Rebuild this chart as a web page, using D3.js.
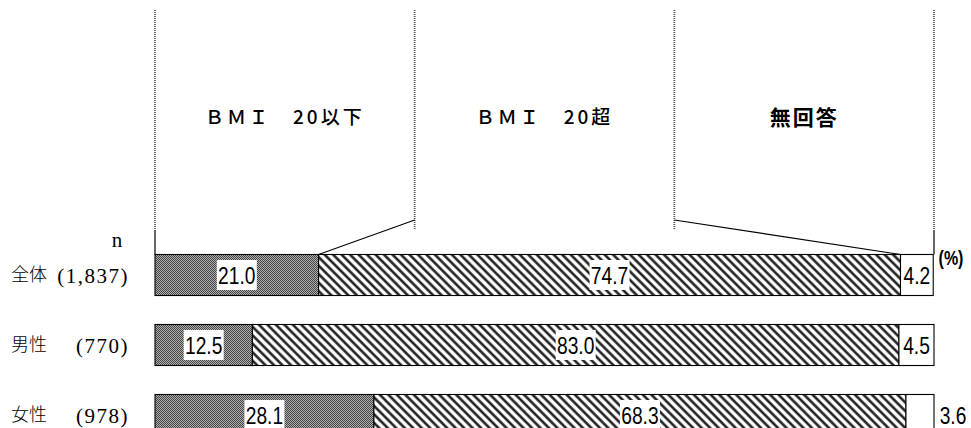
<!DOCTYPE html>
<html>
<head>
<meta charset="utf-8">
<script src="https://cdn.jsdelivr.net/npm/d3@7"></script>
<style>
  body { margin: 0; background: #fff; }
  svg { display: block; }
</style>
</head>
<body>
<script>
var categories = ["全体", "男性", "女性"];
var nLabels = ["(1,837)", "(770)", "(978)"];
var seriesNames = ["ＢＭＩ　20以下", "ＢＭＩ　20超", "無回答"];
var under20 = [21.0, 12.5, 28.1];
var over20 = [74.7, 83.0, 68.3];
var noAnswer = [4.2, 4.5, 3.6];

(function()
{
    var w = 971;
    var h = 428;
    var serif = "'Liberation Serif', 'DejaVu Serif', 'Noto Sans CJK JP', serif";
    var sans = "'Liberation Sans', Arial, sans-serif";

    var svg = d3.select("body")
        .append("svg")
        .attr("width", w)
        .attr("height", h);

    var defs = svg.append("defs");

    // dotted grey fill
    var dots = defs.append("pattern")
        .attr("id", "dots")
        .attr("patternUnits", "userSpaceOnUse")
        .attr("width", 2)
        .attr("height", 2);
    dots.append("rect").attr("width", 2).attr("height", 2).attr("fill", "#b0b0b0");
    dots.append("rect").attr("width", 1).attr("height", 1).attr("fill", "#444");
    dots.append("rect").attr("x", 1).attr("y", 1).attr("width", 1).attr("height", 1).attr("fill", "#444");

    // diagonal hatch, top-left to bottom-right
    var hatch = defs.append("pattern")
        .attr("id", "hatch")
        .attr("patternUnits", "userSpaceOnUse")
        .attr("width", 6)
        .attr("height", 6)
        .attr("patternTransform", "rotate(-45)");
    hatch.append("rect").attr("width", 6).attr("height", 6).attr("fill", "#fff");
    hatch.append("line")
        .attr("x1", 1.5).attr("y1", 0).attr("x2", 1.5).attr("y2", 6)
        .attr("stroke", "#111").attr("stroke-width", 2.4);

    var x = d3.scaleLinear().domain([0, 100]).range([155, 934]);
    var y = d3.scaleBand()
        .domain(categories)
        .range([240, 450])
        .paddingInner(0.414)
        .paddingOuter(0.207);

    var fills = ["url(#dots)", "url(#hatch)", "#fff"];

    var rows = categories.map(function(c, i) {
        var vals = [under20[i], over20[i], noAnswer[i]];
        var acc = 0;
        return vals.map(function(v, k) {
            var seg = { cat: c, key: k, value: v, x0: acc, x1: acc + v };
            acc += v;
            return seg;
        });
    });

    // legend panels with dotted separators
    var third = (x(100) - x(0)) / 3;
    var panelX = [0, 1, 2, 3].map(function(k) { return x(0) + k * third; });

    svg.selectAll("line.sep")
        .data(panelX)
        .enter()
        .append("line")
        .attr("class", "sep")
        .attr("x1", function(d) { return d; })
        .attr("x2", function(d) { return d; })
        .attr("y1", 10)
        .attr("y2", 230)
        .attr("stroke", "#555")
        .attr("stroke-width", 1.8)
        .attr("stroke-dasharray", "1,1");

    svg.selectAll("text.legend")
        .data(seriesNames)
        .enter()
        .append("text")
        .attr("class", "legend")
        .attr("x", function(d, i) { return panelX[i] + third / 2; })
        .attr("y", 117)
        .attr("dy", "0.36em")
        .attr("text-anchor", "middle")
        .attr("font-family", "'Noto Sans CJK JP', sans-serif")
        .attr("font-size", function(d, i) { return i < 2 ? "19px" : "21px"; })
        .attr("letter-spacing", function(d, i) { return i < 2 ? "3px" : "2px"; })
        .attr("font-weight", function(d, i) { return i < 2 ? 500 : 700; })
        .attr("fill", "#000")
        .text(function(d) { return d; });

    // solid ends down to the first bar
    svg.selectAll("line.end")
        .data([0, 100])
        .enter()
        .append("line")
        .attr("class", "end")
        .attr("x1", function(d) { return x(d); })
        .attr("x2", function(d) { return x(d); })
        .attr("y1", 230)
        .attr("y2", y(categories[0]))
        .attr("stroke", "#000")
        .attr("stroke-width", 1.2);

    // leader lines from panel boundaries to the first bar
    var first = rows[0];
    var leaders = [
        { px: panelX[1], v: first[0].x1 },
        { px: panelX[2], v: first[1].x1 }
    ];
    svg.selectAll("line.leader")
        .data(leaders)
        .enter()
        .append("line")
        .attr("class", "leader")
        .attr("x1", function(d) { return d.px; })
        .attr("y1", 220)
        .attr("x2", function(d) { return x(d.v); })
        .attr("y2", y(categories[0]))
        .attr("stroke", "#000")
        .attr("stroke-width", 1.1);

    // bars
    var groups = svg.selectAll("g.row")
        .data(rows)
        .enter()
        .append("g")
        .attr("class", "row");

    groups.selectAll("rect")
        .data(function(d) { return d; })
        .enter()
        .append("rect")
        .attr("x", function(d) { return x(d.x0); })
        .attr("y", function(d) { return y(d.cat); })
        .attr("width", function(d) { return x(d.x1) - x(d.x0); })
        .attr("height", y.bandwidth())
        .attr("fill", function(d) { return fills[d.key]; })
        .attr("stroke", "#000")
        .attr("stroke-width", 1.1);

    // value labels on white boxes (narrowed sans)
    var labels = [];
    rows.forEach(function(r) {
        r.forEach(function(s) { labels.push(s); });
    });

    var lab = svg.selectAll("g.lab")
        .data(labels)
        .enter()
        .append("g")
        .attr("class", "lab")
        .attr("transform", function(d) {
            var cx = (d.key === 2 && d.cat === "女性") ? 953 : x((d.x0 + d.x1) / 2);
            var cy = y(d.cat) + y.bandwidth() / 2;
            return "translate(" + cx + "," + cy + ")";
        });

    lab.each(function(d) {
        if (d.key === 2) return;
        d3.select(this).append("rect")
            .attr("x", -20)
            .attr("y", -15)
            .attr("width", 40)
            .attr("height", 30)
            .attr("fill", "#fff");
    });

    lab.append("text")
        .attr("transform", "scale(0.8,1)")
        .attr("dy", "0.36em")
        .attr("text-anchor", "middle")
        .attr("font-family", sans)
        .attr("font-size", "24px")
        .attr("fill", "#000")
        .text(function(d) { return d.value.toFixed(1); });

    // category labels
    svg.append("text")
        .attr("x", 117)
        .attr("y", 247)
        .attr("text-anchor", "middle")
        .attr("font-family", serif)
        .attr("font-size", "21px")
        .text("n");

    svg.selectAll("text.cat")
        .data(categories)
        .enter()
        .append("text")
        .attr("class", "cat")
        .attr("x", 11)
        .attr("y", function(d) { return y(d) + y.bandwidth() / 2; })
        .attr("dy", "0.36em")
        .attr("font-family", "'Noto Sans CJK JP', sans-serif")
        .attr("font-weight", 300)
        .attr("font-size", "18px")
        .text(function(d) { return d; });

    svg.selectAll("text.n")
        .data(nLabels)
        .enter()
        .append("text")
        .attr("class", "n")
        .attr("x", 129)
        .attr("y", function(d, i) { return y(categories[i]) + y.bandwidth() / 2; })
        .attr("dy", "0.36em")
        .attr("text-anchor", "end")
        .attr("font-family", serif)
        .attr("font-size", "21px")
        .attr("letter-spacing", "1.5px")
        .text(function(d) { return d; });

    svg.append("g")
        .attr("transform", "translate(951,258)")
        .append("text")
        .attr("transform", "scale(0.8,1)")
        .attr("dy", "0.36em")
        .attr("text-anchor", "middle")
        .attr("font-family", sans)
        .attr("font-size", "20px")
        .attr("font-weight", "bold")
        .text("(%)");
})();
</script>
</body>
</html>
